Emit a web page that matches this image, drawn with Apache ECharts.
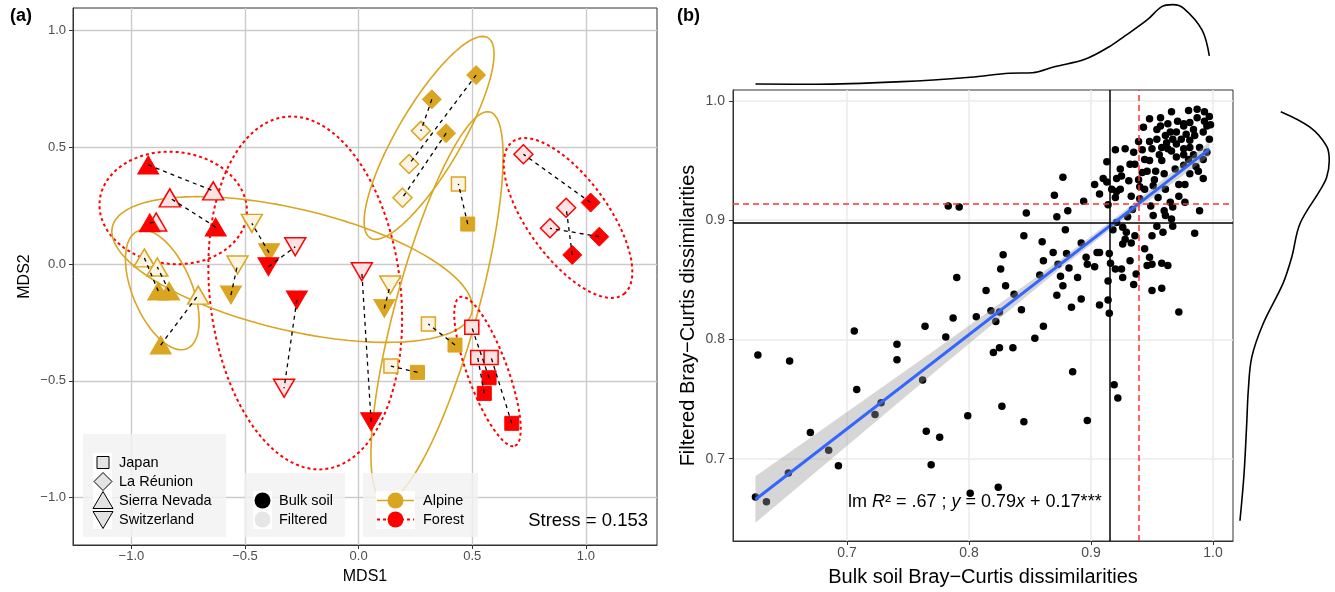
<!DOCTYPE html>
<html><head><meta charset="utf-8">
<script src="https://cdn.jsdelivr.net/npm/echarts@6/dist/echarts.min.js"></script>
<style>html,body{margin:0;padding:0;background:#fff}#c{width:1335px;height:592px}</style>
</head><body><div id="c"></div>
<script>
// ---------------- Panel (a) data: NMDS pairs (bulk soil vs filtered) ----------------
const pairCountry = ['Sierra Nevada','Sierra Nevada','Sierra Nevada','Sierra Nevada','Sierra Nevada','Sierra Nevada',
  'Switzerland','Switzerland','Switzerland','Switzerland','Switzerland','Switzerland',
  'Japan','Japan','Japan','Japan','Japan','Japan',
  'La Réunion','La Réunion','La Réunion','La Réunion','La Réunion','La Réunion'];
const pairHabitat = ['Forest','Forest','Forest','Alpine','Alpine','Alpine',
  'Alpine','Alpine','Alpine','Forest','Forest','Forest',
  'Alpine','Alpine','Alpine','Forest','Forest','Forest',
  'Alpine','Alpine','Alpine','Forest','Forest','Forest'];
const bulkMDS1 = [-0.926,-0.629,-0.919,-0.882,-0.834,-0.871, -0.394,-0.562,0.113,-0.397,-0.272,0.055, 0.480,0.424,0.259,0.574,0.553,0.674, 0.517,0.322,0.385,1.021,0.940,1.059];
const bulkMDS2 = [0.424,0.158,0.176,-0.116,-0.116,-0.347, 0.048,-0.133,-0.190,-0.012,-0.154,-0.675, 0.171,-0.347,-0.464,-0.487,-0.554,-0.682, 0.809,0.705,0.560,0.263,0.039,0.117];
const filtMDS1 = [-0.640,-0.831,-0.891,-0.943,-0.886,-0.706, -0.470,-0.533,0.139,-0.279,-0.328,0.014, 0.439,0.307,0.142,0.498,0.524,0.583, 0.222,0.274,0.193,0.725,0.913,0.842];
const filtMDS2 = [0.313,0.283,0.180,0.026,-0.013,-0.133, 0.174,-0.004,-0.090,0.074,-0.532,-0.033, 0.343,-0.257,-0.437,-0.271,-0.400,-0.400, 0.428,0.570,0.284,0.470,0.241,0.153];

// ellipses (per country x habitat): centre, semi-axes, rotation (deg)
const ellHabitat = ['Forest','Alpine','Forest','Alpine','Alpine','Alpine','Forest','Forest'];
const ellCx = [-0.816,-0.864,-0.235,-0.2925,0.310,0.345,0.9215,0.567];
const ellCy = [0.240,-0.111,-0.124,-0.0236,0.540,-0.180,0.197,-0.460];
const ellA  = [0.325,0.274,0.759,0.812,0.501,0.863,0.408,0.341];
const ellB  = [0.240,0.130,0.420,0.260,0.140,0.180,0.175,0.088];
const ellAngle = [-5,-66.3,96.7,-12.95,58.8,74.3,-52.9,-69.2];

const mdsTicks = [-1,-0.5,0,0.5,1];
const stressText = 'Stress = 0.153';

// ---------------- Panel (b) data: Bray-Curtis dissimilarities ----------------
const bulkBC = [0.627,0.653,0.706,0.741,0.741,0.708,0.670,0.685,0.693,0.652,0.625,0.634,0.728,0.723,0.762,0.764,0.787,0.781,0.765,0.776,
0.769,0.799,0.801,0.824,0.827,0.806,0.818,0.825,0.822,0.820,0.825,0.836,0.845,0.843,0.837,0.814,0.830,0.854,0.861,0.872,
0.877,0.884,0.892,0.907,0.914,0.915,0.914,0.935,0.950,0.958,0.972,0.885,0.897,0.919,0.922,0.783,0.792,0.790,0.847,0.870,
0.877,0.894,0.881,0.872,0.845,0.860,0.879,0.869,0.861,0.880,0.892,0.905,0.907,0.915,0.896,0.897,0.903,0.882,0.873,0.826,
0.828,0.858,0.875,0.889,0.920,0.925,0.916,0.946,0.950,0.958,0.963,0.948,0.937,0.985,0.967,0.959,0.954,0.950,0.936,0.929,
0.926,0.921,0.918,0.928,0.933,0.926,0.951,0.961,0.960,0.967,0.972,0.989,0.965,0.949,0.940,0.933,0.920,0.914,0.917,0.921,
0.944,0.951,0.961,0.913,0.910,0.903,0.921,0.925,0.931,0.939,0.942,0.946,0.953,0.960,0.972,0.981,0.992,0.986,0.969,0.976,
0.913,0.924,0.936,0.948,0.956,0.935,0.942,0.920,0.948,0.954,0.962,0.970,0.965,0.981,0.984,0.995,0.976,0.970,0.985,0.992,
0.995,0.998,0.987,0.993,0.987,0.993,0.981,0.976,0.971,0.963,0.957,0.957,0.954,0.961,0.970,0.978,0.981,0.974,0.967,0.984,
0.950,0.958,0.966,0.976,
0.943,0.948,0.966,0.980,0.997,0.997,0.992,0.988,0.977,0.952,0.932,0.928,0.939,0.944,0.958,0.980,0.989,0.976,0.963,0.940,
0.934,0.966,0.977,0.955,0.924,0.907,0.930,0.944,0.932,0.926];
const filtBC = [0.787,0.782,0.807,0.796,0.783,0.758,0.722,0.707,0.694,0.688,0.668,0.664,0.747,0.737,0.766,0.811,0.818,0.802,0.723,0.718,
0.695,0.736,0.671,0.676,0.744,0.819,0.824,0.823,0.815,0.789,0.793,0.793,0.731,0.825,0.838,0.841,0.845,0.801,0.811,0.837,
0.845,0.827,0.834,0.829,0.833,0.822,0.849,0.846,0.841,0.843,0.823,0.773,0.732,0.762,0.751,0.912,0.911,0.852,0.906,0.921,
0.936,0.916,0.908,0.903,0.887,0.882,0.892,0.873,0.866,0.872,0.881,0.873,0.873,0.872,0.869,0.863,0.861,0.860,0.863,0.859,
0.871,0.854,0.853,0.852,0.859,0.859,0.864,0.862,0.863,0.864,0.862,0.869,0.855,0.889,0.895,0.890,0.895,0.887,0.887,0.890,
0.894,0.898,0.892,0.884,0.881,0.880,0.904,0.904,0.908,0.911,0.920,0.908,0.915,0.912,0.918,0.920,0.919,0.913,0.926,0.924,
0.926,0.929,0.926,0.932,0.935,0.930,0.935,0.937,0.933,0.934,0.940,0.941,0.941,0.939,0.930,0.939,0.935,0.945,0.943,0.946,
0.949,0.943,0.947,0.950,0.955,0.957,0.959,0.959,0.966,0.968,0.965,0.964,0.974,0.961,0.955,0.957,0.955,0.953,0.971,0.974,
0.979,0.980,0.986,0.991,0.993,0.983,0.982,0.979,0.983,0.981,0.986,0.979,0.976,0.971,0.974,0.972,0.967,0.968,0.968,0.976,
0.960,0.961,0.958,0.960,
0.978,0.985,0.991,0.992,0.987,0.968,0.951,0.941,0.930,0.934,0.947,0.960,0.966,0.951,0.950,0.951,0.961,0.981,0.960,0.928,
0.909,0.901,0.915,0.919,0.926,0.922,0.903,0.876,0.866,0.852];

const lmSlope = 0.79, lmIntercept = 0.172;
const lmRange = [0.625, 0.997];
const bandX    = [0.625,0.675,0.725,0.775,0.825,0.875,0.925,0.975,0.997];
const bandHalf = [0.0195,0.016,0.0125,0.009,0.0062,0.0038,0.0032,0.005,0.006];
const refBlack = [0.915, 0.898];   // vertical x, horizontal y
const refRed   = [0.939, 0.914];
const bcTicks = [0.7,0.8,0.9,1.0];

// marginal densities (relative height)
const densTopX = [0.625,0.675,0.745,0.801,0.833,0.852,0.870,0.895,0.915,0.927,0.946,0.958,0.967,0.976,0.991,0.997];
const densTopV = [0.045,0.042,0.072,0.122,0.167,0.174,0.242,0.326,0.469,0.583,0.773,0.924,0.947,0.906,0.66,0.364];
const densRightY = [0.991,0.978,0.962,0.950,0.936,0.925,0.897,0.869,0.847,0.813,0.785,0.757,0.729,0.687,0.648];
const densRightV = [0.452,0.747,0.916,0.942,0.916,0.848,0.646,0.563,0.475,0.273,0.159,0.124,0.108,0.081,0.040];

// ---------------- styling ----------------
const FONT = '"Liberation Sans", Arial, Helvetica, sans-serif';
const GOLD = '#DAA520', RED = '#FF0000';
const colorOf = h => h === 'Alpine' ? GOLD : RED;
const paleOf = h => h === 'Alpine' ? '#FBF4E3' : '#FFE2E2';
const symOf = {'Japan':'rect','La Réunion':'diamond','Sierra Nevada':'triangle','Switzerland':'triangle'};
const sizeOf = {'Japan':[14,14],'La Réunion':[19,19],'Sierra Nevada':[21,18],'Switzerland':[21,18]};
const fmtA = v => (v < 0 ? '\u2212' : '') + Math.abs(v).toFixed(1);

const series = [];
// ellipses
ellCx.forEach((cx, i) => {
  const t0 = ellAngle[i] * Math.PI / 180, c = Math.cos(t0), s = Math.sin(t0);
  const pts = [];
  for (let k = 0; k <= 160; k++) {
    const t = 2 * Math.PI * k / 160;
    const u = ellA[i] * Math.cos(t), v = ellB[i] * Math.sin(t);
    pts.push([cx + u * c - v * s, ellCy[i] + u * s + v * c]);
  }
  const forest = ellHabitat[i] === 'Forest';
  series.push({type:'line', xAxisIndex:0, yAxisIndex:0, data:pts, showSymbol:false, silent:true, z:2,
    lineStyle:{color: colorOf(ellHabitat[i]), width: forest ? 2 : 1.6, type: forest ? [3,3] : 'solid'}});
});
// markers
const countriesList = ['Japan','La Réunion','Sierra Nevada','Switzerland'];
['Alpine','Forest'].forEach(h => countriesList.forEach(cn => {
  const idx = pairCountry.map((c, i) => i).filter(i => pairCountry[i] === cn && pairHabitat[i] === h);
  const common = {type:'scatter', xAxisIndex:0, yAxisIndex:0, symbol: symOf[cn], symbolSize: sizeOf[cn],
    symbolRotate: cn === 'Switzerland' ? 180 : 0, silent:true, z:3};
  series.push(Object.assign({}, common, {data: idx.map(i => [filtMDS1[i], filtMDS2[i]]),
    itemStyle:{color: paleOf(h), borderColor: colorOf(h), borderWidth: 1.5, opacity:1}}));
  series.push(Object.assign({}, common, {data: idx.map(i => [bulkMDS1[i], bulkMDS2[i]]),
    itemStyle:{color: colorOf(h), borderColor: colorOf(h), borderWidth: 1, opacity:1}}));
}));
// connecting segments
series.push({type:'lines', coordinateSystem:'cartesian2d', xAxisIndex:0, yAxisIndex:0, silent:true, z:5,
  data: bulkMDS1.map((x, i) => ({coords: [[x, bulkMDS2[i]], [filtMDS1[i], filtMDS2[i]]]})),
  lineStyle:{color:'#000', width:1.3, type:[4,4], opacity:1}});

// panel b
series.push({type:'scatter', xAxisIndex:1, yAxisIndex:1, data: bulkBC.map((x, i) => [x, filtBC[i]]),
  symbolSize:7.5, itemStyle:{color:'#000', opacity:1}, silent:true, z:2,
  markLine:{silent:true, symbol:'none', precision:6, label:{show:false}, animation:false, data:[
    {xAxis: refBlack[0], lineStyle:{color:'#000', width:1.5, type:'solid'}},
    {yAxis: refBlack[1], lineStyle:{color:'#000', width:1.5, type:'solid'}},
    {xAxis: refRed[0], lineStyle:{color:'#FF3333', width:1.5, type:[6,4]}},
    {yAxis: refRed[1], lineStyle:{color:'#FF3333', width:1.5, type:[6,4]}}]}});
series.push({type:'custom', xAxisIndex:1, yAxisIndex:1, data:[[0.8,0.8]], silent:true, z:3,
  renderItem: (p, api) => {
    const up = bandX.map((x, i) => api.coord([x, lmIntercept + lmSlope * x + bandHalf[i]]));
    const lo = bandX.map((x, i) => api.coord([x, lmIntercept + lmSlope * x - bandHalf[i]])).reverse();
    return {type:'polygon', shape:{points: up.concat(lo)}, style:{fill:'rgba(153,153,153,0.4)'}};
  }});
series.push({type:'line', xAxisIndex:1, yAxisIndex:1, showSymbol:false, silent:true, z:4,
  data: lmRange.map(x => [x, lmIntercept + lmSlope * x]), lineStyle:{color:'#3366FF', width:3}});
// marginals
series.push({type:'line', xAxisIndex:2, yAxisIndex:2, showSymbol:false, silent:true, smooth:0.35,
  data: densTopX.map((x, i) => [x, densTopV[i]]), lineStyle:{color:'#000', width:1.6}});
series.push({type:'line', xAxisIndex:3, yAxisIndex:3, showSymbol:false, silent:true, smooth:0.35,
  data: densRightY.map((y, i) => [densRightV[i], y]), lineStyle:{color:'#000', width:1.6}});

const axisA = (isX) => ({
  type:'value', gridIndex:0,
  min: isX ? -1.257 : -1.203, max: isX ? 1.313 : 1.096,
  axisLine:{show:true, onZero:false, lineStyle:{color:'#333', width:1}},
  axisTick:{show:true, customValues: mdsTicks, length:4, lineStyle:{color:'#333'}},
  axisLabel:{customValues: mdsTicks, formatter: fmtA, color:'#4D4D4D', fontSize:13, fontFamily:FONT, margin: isX ? 5 : 7},
  splitLine:{show:true, lineStyle:{color:'#CBCBCB', width:1.4}},
  name: isX ? 'MDS1' : 'MDS2', nameLocation:'middle', nameGap: isX ? 24 : 40,
  nameTextStyle:{fontSize:16, color:'#000', fontFamily:FONT}
});
const axisB = (isX) => ({
  type:'value', gridIndex:1,
  min: isX ? 0.6066 : 0.631, max: isX ? 1.0164 : 1.0092,
  axisLine:{show:true, onZero:false, lineStyle:{color:'#333', width:1}},
  axisTick:{show:true, customValues: bcTicks, length:4, lineStyle:{color:'#333'}},
  axisLabel:{customValues: bcTicks, formatter: v => v.toFixed(1), color:'#4D4D4D', fontSize:14, fontFamily:FONT, margin: isX ? 5 : 8},
  splitLine:{show:true, lineStyle:{color:'#EBEBEB', width:1.5}},
  name: isX ? 'Bulk soil Bray\u2212Curtis dissimilarities' : 'Filtered Bray\u2212Curtis dissimilarities',
  nameLocation:'middle', nameGap: isX ? 26 : 35,
  nameTextStyle:{fontSize:20, color:'#000', fontFamily:FONT}
});

const grey = '#E3E3E3';
const graphic = [
  {type:'text', left:10, top:7, style:{text:'(a)', font:'bold 18px ' + FONT, fill:'#000'}},
  {type:'text', left:677, top:7, style:{text:'(b)', font:'bold 18px ' + FONT, fill:'#000'}},
  {type:'text', x:648, y:521, style:{text: stressText, font:'18.5px ' + FONT, fill:'#000', align:'right', verticalAlign:'middle'}, z:50},
  // legend boxes
  {type:'rect', shape:{x:83, y:434, width:143, height:103}, style:{fill:'rgba(242,242,242,0.82)'}, z:40},
  {type:'rect', shape:{x:245, y:473, width:100, height:64}, style:{fill:'rgba(242,242,242,0.82)'}, z:40},
  {type:'rect', shape:{x:363, y:473, width:115, height:64}, style:{fill:'rgba(242,242,242,0.82)'}, z:40},
  {type:'rect', shape:{x:93, y:453, width:19, height:76}, style:{fill:'#fff'}, z:41},
  {type:'rect', shape:{x:253, y:491, width:19, height:38}, style:{fill:'#fff'}, z:41},
  {type:'rect', shape:{x:376, y:491, width:39, height:38}, style:{fill:'#fff'}, z:41},
  {type:'rect', shape:{x:97, y:456.5, width:12, height:12}, style:{fill:grey, stroke:'#000', lineWidth:1}, z:42},
  {type:'polygon', shape:{points:[[103,472.5],[112,481.5],[103,490.5],[94,481.5]]}, style:{fill:grey, stroke:'#000', lineWidth:1}, z:42},
  {type:'polygon', shape:{points:[[103,491.5],[113,508.5],[93,508.5]]}, style:{fill:grey, stroke:'#000', lineWidth:1}, z:42},
  {type:'polygon', shape:{points:[[93,511.5],[113,511.5],[103,528.5]]}, style:{fill:grey, stroke:'#000', lineWidth:1}, z:42},
  {type:'circle', shape:{cx:262.5, cy:500.5, r:8}, style:{fill:'#000'}, z:42},
  {type:'circle', shape:{cx:262.5, cy:519.5, r:8}, style:{fill:'#E6E6E6'}, z:42},
  {type:'line', shape:{x1:377, y1:500.5, x2:414, y2:500.5}, style:{stroke:GOLD, lineWidth:1.6}, z:42},
  {type:'circle', shape:{cx:395.5, cy:500.5, r:8}, style:{fill:GOLD}, z:43},
  {type:'line', shape:{x1:377, y1:519.5, x2:414, y2:519.5}, style:{stroke:RED, lineWidth:2, lineDash:[3,3]}, z:42},
  {type:'circle', shape:{cx:395.5, cy:519.5, r:8}, style:{fill:RED}, z:43}
];
[['Japan',463],['La Réunion',482],['Sierra Nevada',501],['Switzerland',520]].forEach(([t, y]) =>
  graphic.push({type:'text', x:119, y:y, style:{text:t, font:'14.5px ' + FONT, fill:'#000', verticalAlign:'middle'}, z:45}));
[['Bulk soil',501,279],['Filtered',520,279],['Alpine',501,423],['Forest',520,423]].forEach(([t, y, x]) =>
  graphic.push({type:'text', x:x, y:y, style:{text:t, font:'14.5px ' + FONT, fill:'#000', verticalAlign:'middle'}, z:45}));
graphic.push({type:'text', x:848, y:502, z:45, style:{
  text:'{n|lm }{i|R}{n|\u00B2 = .67 ; }{i|y}{n| = 0.79}{i|x}{n| + 0.17***}', verticalAlign:'middle',
  rich:{n:{font:'18px ' + FONT, fill:'#000'}, i:{font:'italic 18px ' + FONT, fill:'#000'}}}});

const chart = echarts.init(document.getElementById('c'));
chart.setOption({
  animation:false,
  textStyle:{fontFamily:FONT},
  grid:[
    {left:73, top:8, width:584, height:537, show:true, borderColor:'#333', borderWidth:1, backgroundColor:'transparent'},
    {left:733, top:90, width:500, height:451, show:true, borderColor:'#333', borderWidth:1, backgroundColor:'transparent'},
    {left:733, top:0, width:500, height:88},
    {left:1236, top:90, width:99, height:451}
  ],
  xAxis:[axisA(true), axisB(true),
    {type:'value', gridIndex:2, min:0.6066, max:1.0164, show:false},
    {type:'value', gridIndex:3, min:0, max:1, show:false}],
  yAxis:[axisA(false), axisB(false),
    {type:'value', gridIndex:2, min:0, max:1, show:false},
    {type:'value', gridIndex:3, min:0.631, max:1.0092, show:false}],
  series: series,
  graphic: graphic
});
</script>
</body></html>
